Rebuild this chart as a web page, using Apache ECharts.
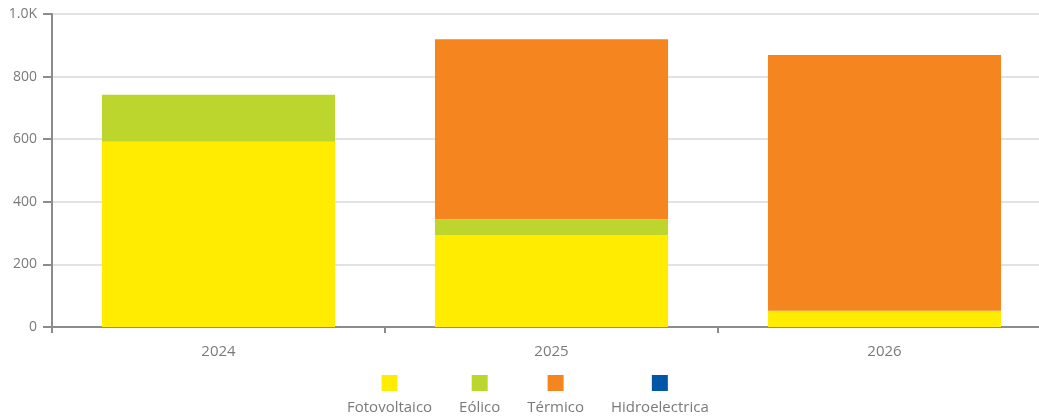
<!DOCTYPE html>
<html>
<head>
<meta charset="utf-8">
<script src="https://cdn.jsdelivr.net/npm/echarts@6/dist/echarts.min.js"></script>
<style>
  html, body { margin: 0; padding: 0; background: #fff; }
  #chart { width: 1039px; height: 418px; }
</style>
</head>
<body>
<div id="chart"></div>
<script>
const years = ['2024', '2025', '2026'];
const fotovoltaico = [592, 293, 52];
const eolico = [150, 51, 0];
const termico = [0, 575, 817];
const hidroelectrica = [0, 0, 0];

const names = ['Fotovoltaico', 'Eólico', 'Térmico', 'Hidroelectrica'];
const colors = ['#ffec00', '#bdd62e', '#f5861f', '#0057a8'];
const values = [fotovoltaico, eolico, termico, hidroelectrica];

const chart = echarts.init(document.getElementById('chart'));

// legend: coloured square above the name
const rich = { t: { color: '#7a7a7a', fontSize: 15, align: 'center', lineHeight: 20, padding: [14, 0, 0, 0] } };
names.forEach((n, i) => {
  rich['b' + i] = { backgroundColor: colors[i], width: 16, height: 16, align: 'center' };
});

const options = {
  backgroundColor: '#fff',
  textStyle: { fontFamily: 'Open Sans, sans-serif' },
  animation: false,
  grid: { left: 52, top: 14, width: 999, height: 313, outerBoundsMode: 'none', containLabel: false },
  legend: {
    left: 337,
    top: 370,
    icon: 'none',
    itemWidth: 0,
    itemHeight: 0,
    itemGap: 22,
    data: names,
    formatter: (name) => {
      const i = names.indexOf(name);
      return '{b' + i + '|}\n{t|' + name + '}';
    },
    textStyle: { rich: rich },
  },
  xAxis: {
    type: 'category',
    data: years,
    axisLine: { lineStyle: { color: '#8c8c8c', width: 2 } },
    axisTick: { show: true, length: 6, lineStyle: { color: '#8c8c8c', width: 2 } },
    axisLabel: { color: '#7a7a7a', fontSize: 15, margin: 17 },
  },
  yAxis: {
    type: 'value',
    min: 0,
    max: 1000,
    interval: 200,
    axisLine: { show: true, lineStyle: { color: '#8c8c8c', width: 2 } },
    axisTick: { show: true, length: 9, lineStyle: { color: '#8c8c8c', width: 2 } },
    axisLabel: {
      color: '#7a7a7a',
      fontSize: 14,
      margin: 15,
      formatter: (v) => (v >= 1000 ? (v / 1000).toFixed(1) + 'K' : v),
    },
    splitLine: { lineStyle: { color: '#e2e2e2', width: 2 } },
  },
  series: names.map((n, i) => ({
    name: n,
    type: 'bar',
    stack: 'total',
    barWidth: '70%',
    itemStyle: { color: colors[i] },
    data: values[i],
  })),
};

chart.setOption(options);
</script>
</body>
</html>
